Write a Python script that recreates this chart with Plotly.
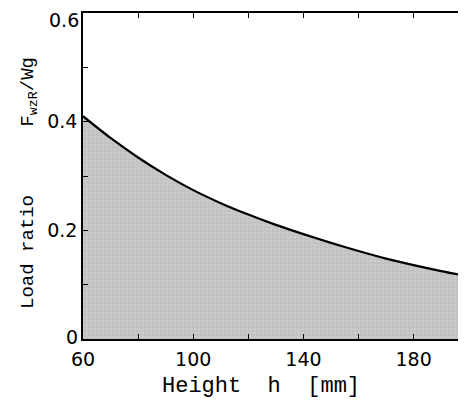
import plotly.graph_objects as go

height_mm = [60, 70, 80, 90, 100, 110, 120, 130, 140, 150, 160, 170, 180, 190, 199]
load_ratio = [0.410, 0.370, 0.334, 0.302, 0.274, 0.250, 0.229, 0.210, 0.193, 0.177,
              0.162, 0.148, 0.136, 0.125, 0.116]

x_ticks = [60, 80, 100, 120, 140, 160, 180, 200]
x_text = ["60", "", "100", "", "140", "", "180", ""]
y_ticks = [0, 0.1, 0.2, 0.3, 0.4, 0.5, 0.6]
y_text = ["", "", "0.2", "", "0.4", "", ""]
y_zero_label = "0"
y_top_label = "0.6"

x_title = "Height\u00a0\u00a0h\u00a0\u00a0[mm]"
y_title = "Load ratio" + "\u00a0" * 6 + "F<sub>wzR</sub>/Wg"

fig = go.Figure()
fig.add_trace(go.Scatter(
    x=height_mm, y=load_ratio, mode="lines",
    line=dict(color="black", width=2.2, shape="spline", smoothing=0.8),
    fill="tozeroy", fillcolor="#c6c6c6",
    fillpattern=dict(shape="+", bgcolor="#cbcbcb", fgcolor="#9c9c9c", size=4, solidity=0.25),
    hoverinfo="skip", showlegend=False,
))

tickfont = dict(family="DejaVu Sans, sans-serif", size=19, color="black")
axis_common = dict(
    showline=True, linecolor="black", linewidth=1.5, mirror="ticks",
    ticks="inside", ticklen=5, tickwidth=1.2, tickcolor="black",
    showgrid=False, zeroline=False, automargin=False, tickfont=tickfont,
    ticklabeloverflow="allow",
)

mono = "Liberation Mono, Courier New, monospace"

# page body has an 8px margin, so the figure is drawn from (8, 8)
W, H = 458, 394
ML, MT, MB = 75, 5, 63
PW, PH = W - ML, H - MT - MB

fig.update_layout(
    width=W, height=H,
    margin=dict(l=ML, r=0, t=MT, b=MB),
    paper_bgcolor="white", plot_bgcolor="white",
    xaxis=dict(range=[60, 199], tickmode="array", tickvals=x_ticks, ticktext=x_text,
               ticklabelstandoff=2, **axis_common),
    yaxis=dict(range=[0, 0.6], tickmode="array", tickvals=y_ticks, ticktext=y_text,
               **axis_common),
    annotations=[
        dict(text=y_zero_label, xref="paper", yref="paper", x=-(83 - 80) / PW, y=(339 - 337) / PH,
             xanchor="right", yanchor="middle", showarrow=False, font=tickfont),
        dict(text=y_top_label, xref="paper", yref="paper", x=-(83 - 80) / PW, y=1 + (MT - 0.5) / PH,
             xanchor="right", yanchor="top", showarrow=False, font=tickfont, borderpad=0),
        dict(text=x_title, xref="paper", yref="paper", x=(261 - 83) / PW, y=-(386 - 339) / PH,
             xanchor="center", yanchor="middle", showarrow=False,
             font=dict(family=mono, size=22, color="black")),
        dict(text=y_title, xref="paper", yref="paper", x=(29 - 83) / PW, y=(339 - 183) / PH,
             xanchor="center", yanchor="middle", showarrow=False, textangle=-90,
             font=dict(family=mono, size=19, color="black")),
    ],
)

fig.write_html("out.html")
